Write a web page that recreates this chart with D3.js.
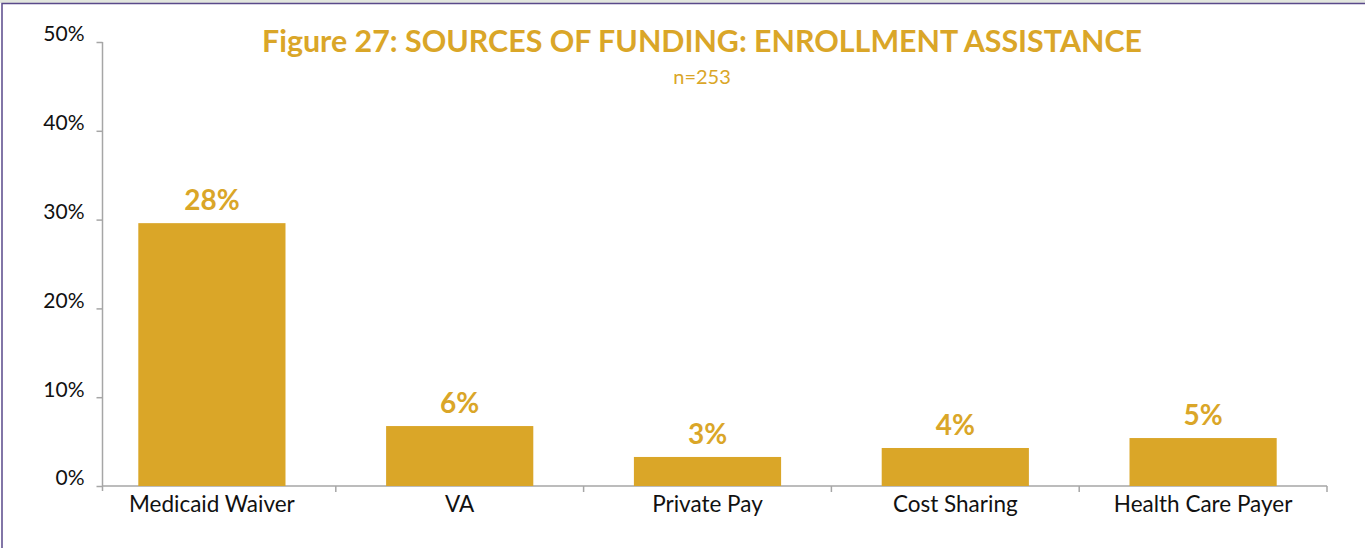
<!DOCTYPE html>
<html>
<head>
<meta charset="utf-8">
<script src="https://cdn.jsdelivr.net/npm/d3@7/dist/d3.min.js"></script>
<style>
  html, body { margin: 0; padding: 0; background: #fff; }
  svg { display: block; }
</style>
</head>
<body>
<svg id="chart" width="1365" height="548"></svg>
<script>
const categories = ["Medicaid Waiver", "VA", "Private Pay", "Cost Sharing", "Health Care Payer"];
const values = [29.6, 6.75, 3.27, 4.28, 5.4];
const valueLabels = ["28%", "6%", "3%", "4%", "5%"];
const yTicks = [0, 10, 20, 30, 40, 50];
const title = "Figure 27: SOURCES OF FUNDING: ENROLLMENT ASSISTANCE";
const subtitle = "n=253";

const gold = "#DAA628";
const axisColor = "#A6A6A6";
const svg = d3.select("#chart");

// frame
svg.append("rect").attr("x", 0).attr("y", 0).attr("width", 1365).attr("height", 3).attr("fill", "#E2E6DE");
svg.append("rect").attr("x", 2).attr("y", 3.5).attr("width", 1380).attr("height", 560)
  .attr("fill", "#fff").attr("stroke", "#5A4A8A").attr("stroke-width", 1.5);

const yAxisX = 102.5, xEnd = 1327;
const y = d3.scaleLinear().domain([0, 50]).range([486, 42]);
const x = d3.scaleBand().domain(categories).range([88, xEnd]).paddingInner(0.406).paddingOuter(0.203);

// y axis
const yAxis = svg.append("g").attr("transform", `translate(${yAxisX},0)`)
  .call(d3.axisLeft(y).tickValues(yTicks).tickSize(6).tickFormat(d => d + "%"));
yAxis.select(".domain").remove();
yAxis.append("line").attr("x1", 0).attr("x2", 0).attr("y1", y(50)).attr("y2", y(0) + 5)
  .attr("stroke", axisColor).attr("stroke-width", 1.5);
yAxis.selectAll(".tick line").attr("stroke", axisColor).attr("stroke-width", 1.5);
yAxis.selectAll(".tick text")
  .attr("x", -18).attr("dy", "-0.05em")
  .attr("fill", "#111").style("font-family", "Lato, 'Open Sans', sans-serif").style("font-size", "21px");

// x axis
const xAxisG = svg.append("g");
xAxisG.append("line").attr("x1", yAxisX).attr("x2", xEnd).attr("y1", y(0)).attr("y2", y(0))
  .attr("stroke", axisColor).attr("stroke-width", 1.5);
const bounds = categories.map(c => x(c) - x.step() * x.paddingInner() / 2).slice(1).concat([xEnd]);
xAxisG.selectAll("line.sep").data(bounds).join("line").attr("class", "sep")
  .attr("x1", d => d).attr("x2", d => d).attr("y1", y(0)).attr("y2", y(0) + 6)
  .attr("stroke", axisColor).attr("stroke-width", 1.5);
xAxisG.selectAll("text.cat").data(categories).join("text").attr("class", "cat")
  .attr("x", d => x(d) + x.bandwidth() / 2).attr("y", 512)
  .attr("text-anchor", "middle").attr("fill", "#111")
  .style("font-family", "Lato, 'Open Sans', sans-serif").style("font-size", "22.5px")
  .text(d => d);

// bars
svg.selectAll("rect.bar").data(values).join("rect").attr("class", "bar")
  .attr("x", (d, i) => x(categories[i])).attr("width", x.bandwidth())
  .attr("y", d => y(d)).attr("height", d => y(0) - y(d)).attr("fill", gold);

svg.selectAll("text.val").data(values).join("text").attr("class", "val")
  .attr("x", (d, i) => x(categories[i]) + x.bandwidth() / 2).attr("y", d => y(d) - 13)
  .attr("text-anchor", "middle").attr("fill", gold)
  .style("font-family", "Lato, 'Open Sans', sans-serif").style("font-weight", "bold").style("font-size", "28px")
  .text((d, i) => valueLabels[i]);

// titles
svg.append("text").attr("x", 702).attr("y", 52).attr("text-anchor", "middle").attr("fill", gold)
  .style("font-family", "Lato, 'Open Sans', sans-serif").style("font-weight", "bold").style("font-size", "30.4px")
  .text(title);
svg.append("text").attr("x", 702).attr("y", 84).attr("text-anchor", "middle").attr("fill", gold)
  .style("font-family", "Lato, 'Open Sans', sans-serif").style("font-size", "20px")
  .text(subtitle);
</script>
</body>
</html>
